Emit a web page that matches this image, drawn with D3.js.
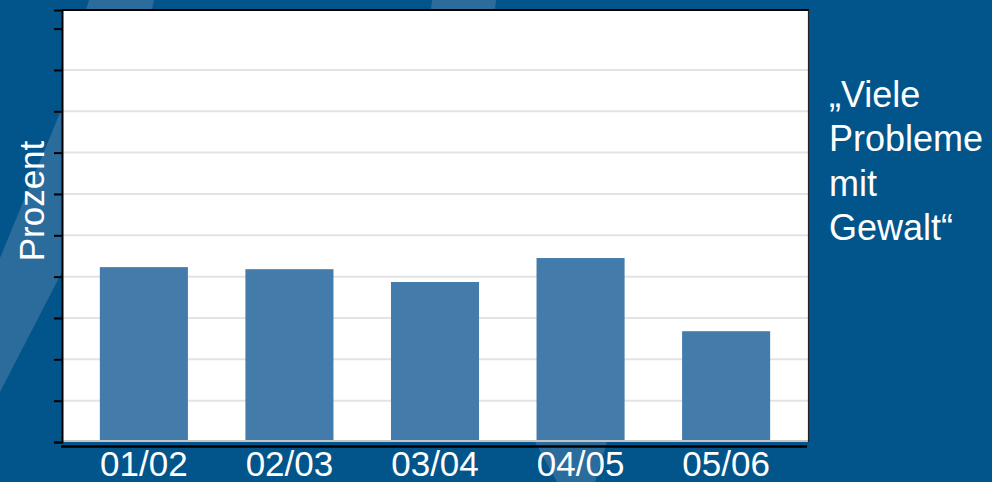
<!DOCTYPE html>
<html>
<head>
<meta charset="utf-8">
<script src="https://cdn.jsdelivr.net/npm/d3@7/dist/d3.min.js"></script>
<style>
  html, body { margin: 0; padding: 0; background: #02558a; }
  svg { display: block; font-family: "Liberation Sans", Arial, sans-serif; }
</style>
</head>
<body>
<svg id="chart" width="992" height="482"></svg>
<script>
var seasons = ["01/02", "02/03", "03/04", "04/05", "05/06"];
var percent = [4.23, 4.18, 3.87, 4.45, 2.68];
var yTicks = [0, 1, 2, 3, 4, 5, 6, 7, 8, 9, 10];
var gridTicks = [1, 2, 3, 4, 5, 6, 7, 8, 9];
var noteLines = ["\u201EViele", "Probleme", "mit", "Gewalt\u201C"];

var svg = d3.select("#chart");
var W = 992, H = 482;
var plot = { left: 62, right: 808, top: 10, bottom: 442 };

// background + light decorative swooshes
svg.append("rect").attr("width", W).attr("height", H).attr("fill", "#02558a");
var light = "#2c6c9c";
var swooshes = [
  [[62, 108], [62, 272], [0, 392], [0, 258]],
  [[89, 0], [154, 0], [152, 10], [86, 10]],
  [[432, 0], [496, 0], [495, 10], [431, 10]],
  [[535, 442], [607, 442], [595, 482], [557, 482]]
];
svg.selectAll("polygon.sw").data(swooshes).enter().append("polygon")
  .attr("class", "sw")
  .attr("points", function(d){ return d.map(function(p){ return p.join(","); }).join(" "); })
  .attr("fill", light);

var x = d3.scaleBand().domain(seasons)
  .range([plot.left, plot.right])
  .paddingInner(0.395).paddingOuter(0.26);

var y = d3.scaleLinear().domain([0, 10.45]).range([plot.bottom, plot.top]);

// plot area
svg.append("rect")
  .attr("x", plot.left).attr("y", plot.top)
  .attr("width", plot.right - plot.left).attr("height", plot.bottom - plot.top)
  .attr("fill", "#ffffff");

// gridlines
svg.append("g").selectAll("line").data(gridTicks).enter().append("line")
  .attr("x1", plot.left).attr("x2", plot.right)
  .attr("y1", function(d){ return y(d); }).attr("y2", function(d){ return y(d); })
  .attr("stroke", "#e3e3e3").attr("stroke-width", 2);

// bars
svg.append("g").selectAll("rect").data(percent).enter().append("rect")
  .attr("x", function(d, i){ return x(seasons[i]); })
  .attr("width", x.bandwidth())
  .attr("y", function(d){ return y(d); })
  .attr("height", function(d){ return y(0) - y(d); })
  .attr("fill", "#437bab");

// plot frame
svg.append("line").attr("x1", plot.left).attr("x2", plot.right)
  .attr("y1", plot.bottom - 1).attr("y2", plot.bottom - 1)
  .attr("stroke", "#c4c4c4").attr("stroke-width", 2);
svg.append("line").attr("x1", plot.left).attr("x2", plot.right + 1)
  .attr("y1", plot.top).attr("y2", plot.top)
  .attr("stroke", "#000").attr("stroke-width", 2);
svg.append("line").attr("x1", plot.right + 0.5).attr("x2", plot.right + 0.5)
  .attr("y1", plot.top).attr("y2", plot.bottom)
  .attr("stroke", "#222").attr("stroke-width", 1.2);

// y axis, ticks only
var yAxis = d3.axisLeft(y).tickValues(yTicks).tickSize(8).tickFormat("");
svg.append("g").attr("transform", "translate(" + plot.left + ",0)")
  .call(yAxis)
  .call(function(g){
    g.select(".domain").attr("stroke", "#000").attr("stroke-width", 2);
    g.selectAll(".tick line").attr("stroke", "#000").attr("stroke-width", 2);
  });

// x axis line below the plot
svg.append("line").attr("x1", 61).attr("x2", plot.right - 1)
  .attr("y1", 446.5).attr("y2", 446.5)
  .attr("stroke", "#000").attr("stroke-width", 2.5);

// x labels
var xAxis = d3.axisBottom(x).tickSize(0).tickPadding(0);
svg.append("g")
  .call(xAxis)
  .call(function(g){
    g.select(".domain").remove();
    g.selectAll(".tick text")
      .attr("y", 476).attr("dy", null)
      .attr("fill", "#fff")
      .style("font-size", "35px")
      .style("font-family", "'Liberation Sans', Arial, sans-serif");
  });

// y title
svg.append("text")
  .attr("transform", "translate(44,201) rotate(-90)")
  .attr("text-anchor", "middle")
  .attr("fill", "#fff")
  .style("font-size", "35px")
  .text("Prozent");

// note on the right
svg.append("g").selectAll("text").data(noteLines).enter().append("text")
  .attr("x", 829)
  .attr("y", function(d, i){ return 107 + i * 44.4; })
  .attr("fill", "#fff")
  .style("font-size", "36px")
  .text(function(d){ return d; });
</script>
</body>
</html>
